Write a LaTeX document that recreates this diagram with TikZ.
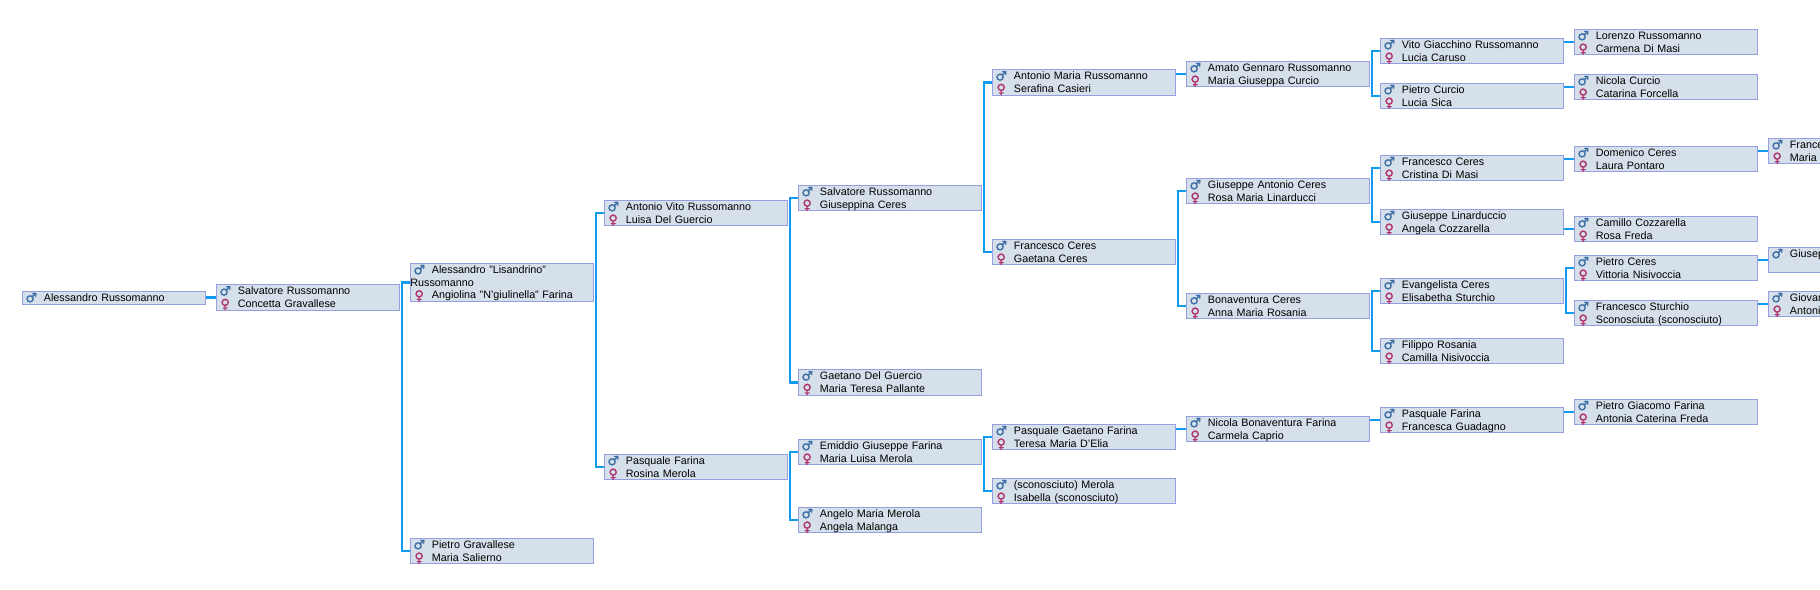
\documentclass[tikz,border=0pt]{standalone}
\usepackage{fontspec}
\setmainfont{Liberation Sans}
\newfontfamily\signfont[FakeBold=1.6]{DejaVu Sans}
\usetikzlibrary{calc}
\definecolor{boxfill}{RGB}{214, 224, 234}
\definecolor{boxline}{RGB}{150, 160, 225}
\definecolor{linkblue}{RGB}{15, 155, 240}
\definecolor{maleblue}{RGB}{60, 110, 165}
\definecolor{femalered}{RGB}{175, 50, 110}

\newcommand{\malesign}{\makebox[21.5pt][l]{\hspace{3pt}\raisebox{-0.6pt}{\textcolor{maleblue}{\signfont\fontsize{13}{13}\selectfont ♂}}}}
\newcommand{\femalesign}{\makebox[21.5pt][l]{\hspace{4pt}\raisebox{-0.8pt}{\textcolor{femalered}{\signfont\fontsize{13}{13}\selectfont ♀}}}}
\newcommand{\rows}[1]{\raisebox{-1.4pt}[\height][\depth]{\begin{tabular}{@{}l@{}} #1 \end{tabular}}}
\newcommand{\couple}[2]{\rows{\malesign #1 \\ \femalesign #2}}

\begin{document}
\begin{tikzpicture}[x=1pt,y=-1pt]

\tikzstyle{person_box} = [draw=boxline, fill=boxfill, line width=0.8, anchor=north west, inner sep=0, yshift=0.5,
text width=183, minimum height=25.6, font=\fontsize{10.75}{12.6}\selectfont]
\tikzstyle{link} = [draw=linkblue, line width=2.4]

\useasboundingbox (0,0) rectangle (1820,589);
\clip (0,0) rectangle (1820,589);

% generation 1 to 3
\node [person_box, minimum height=13] (alessandro) at (22,291.3) {\rows{\malesign Alessandro Russomanno}};
\node [person_box] (salvatore) at (216,284.6) {\couple{Salvatore Russomanno}{Concetta Gravallese}};
\node [person_box, minimum height=38.4] (lisandrino) at (410,263.3) {\rows{\malesign Alessandro "Lisandrino" \\ Russomanno \\ \femalesign Angiolina "N'giulinella" Farina}};
\node [person_box] (gravallese) at (410,538.3) {\couple{Pietro Gravallese}{Maria Salierno}};

% generation 4 and 5
\node [person_box] (antoniovito) at (604,200.3) {\couple{Antonio Vito Russomanno}{Luisa Del Guercio}};
\node [person_box] (pasquale) at (604,454.3) {\couple{Pasquale Farina}{Rosina Merola}};
\node [person_box] (salvatoreceres) at (798,185.3) {\couple{Salvatore Russomanno}{Giuseppina Ceres}};
\node [person_box] (gaetano) at (798,369.6) {\couple{Gaetano Del Guercio}{Maria Teresa Pallante}};
\node [person_box] (emiddio) at (798,439.3) {\couple{Emiddio Giuseppe Farina}{Maria Luisa Merola}};
\node [person_box] (angelo) at (798,507.3) {\couple{Angelo Maria Merola}{Angela Malanga}};

% generation 6 and 7
\node [person_box] (antoniomaria) at (992,69.6) {\couple{Antonio Maria Russomanno}{Serafina Casieri}};
\node [person_box] (francesco) at (992,239.3) {\couple{Francesco Ceres}{Gaetana Ceres}};
\node [person_box] (pasqualegaetano) at (992,424.3) {\couple{Pasquale Gaetano Farina}{Teresa Maria D'Elia}};
\node [person_box] (sconosciuto) at (992,478.3) {\couple{(sconosciuto) Merola}{Isabella (sconosciuto)}};
\node [person_box] (amato) at (1186,61.3) {\couple{Amato Gennaro Russomanno}{Maria Giuseppa Curcio}};
\node [person_box] (giuseppeantonio) at (1186,178.3) {\couple{Giuseppe Antonio Ceres}{Rosa Maria Linarducci}};
\node [person_box] (bonaventura) at (1186,293.3) {\couple{Bonaventura Ceres}{Anna Maria Rosania}};
\node [person_box] (nicolafarina) at (1186,416.3) {\couple{Nicola Bonaventura Farina}{Carmela Caprio}};

% generation 8
\node [person_box] (vito) at (1380,38.3) {\couple{Vito Giacchino Russomanno}{Lucia Caruso}};
\node [person_box] (curcio) at (1380,83.3) {\couple{Pietro Curcio}{Lucia Sica}};
\node [person_box] (francescoc) at (1380,155.3) {\couple{Francesco Ceres}{Cristina Di Masi}};
\node [person_box] (linarduccio) at (1380,209.3) {\couple{Giuseppe Linarduccio}{Angela Cozzarella}};
\node [person_box] (evangelista) at (1380,278.3) {\couple{Evangelista Ceres}{Elisabetha Sturchio}};
\node [person_box] (filippo) at (1380,338.3) {\couple{Filippo Rosania}{Camilla Nisivoccia}};
\node [person_box] (pasqualeg) at (1380,407.3) {\couple{Pasquale Farina}{Francesca Guadagno}};

% generation 9
\node [person_box] (lorenzo) at (1574,29.3) {\couple{Lorenzo Russomanno}{Carmena Di Masi}};
\node [person_box] (nicola) at (1574,74.3) {\couple{Nicola Curcio}{Catarina Forcella}};
\node [person_box] (domenico) at (1574,146.3) {\couple{Domenico Ceres}{Laura Pontaro}};
\node [person_box] (camillo) at (1574,216.3) {\couple{Camillo Cozzarella}{Rosa Freda}};
\node [person_box] (pietroceres) at (1574,255.3) {\couple{Pietro Ceres}{Vittoria Nisivoccia}};
\node [person_box] (sturchio) at (1574,300.3) {\couple{Francesco Sturchio}{Sconosciuta (sconosciuto)}};
\node [person_box] (giacomo) at (1574,399.3) {\couple{Pietro Giacomo Farina}{Antonia Caterina Freda}};

% generation 10, cut by the page edge
\node [person_box] (france) at (1768,138.3) {\couple{France}{Maria I}};
\node [person_box] (giusep) at (1768,247.3) {\rows{\malesign Giusep \\ ~}};
\node [person_box] (giovan) at (1768,291.3) {\couple{Giovan}{Antoni}};

% one parent box
\foreach \child/\parent in {alessandro/salvatore, pasqualegaetano/nicolafarina, nicolafarina/pasqualeg,
pasqualeg/giacomo, antoniomaria/amato, vito/lorenzo, curcio/nicola, francescoc/domenico,
linarduccio/camillo, domenico/france, pietroceres/giusep, sturchio/giovan}
  \draw[link] (\parent.west) -- (\parent.west -| \child.east);

% two parent boxes
\foreach \child/\father/\mother in {salvatore/lisandrino/gravallese, lisandrino/antoniovito/pasquale,
antoniovito/salvatoreceres/gaetano, pasquale/emiddio/angelo, salvatoreceres/antoniomaria/francesco,
emiddio/pasqualegaetano/sconosciuto, francesco/giuseppeantonio/bonaventura, amato/vito/curcio,
giuseppeantonio/francescoc/linarduccio, bonaventura/evangelista/filippo, evangelista/pietroceres/sturchio}
  \draw[link] (\father.west) -| ([xshift=2]\child.east) |- (\mother.west);

\end{tikzpicture}
\end{document}
